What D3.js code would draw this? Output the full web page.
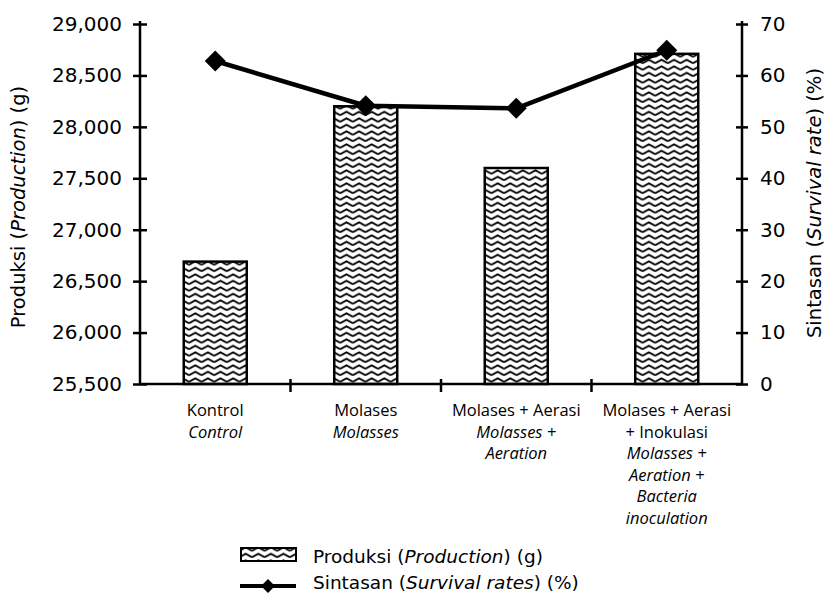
<!DOCTYPE html>
<html><head><meta charset="utf-8">
<script src="https://cdn.jsdelivr.net/npm/d3@7"></script>
<style>body{margin:0;background:#fff}svg{display:block}</style>
</head><body><svg id="c" width="827" height="597"></svg>
<script>
const categories = [
  [{t:"Kontrol",i:false},{t:"Control",i:true}],
  [{t:"Molases",i:false},{t:"Molasses",i:true}],
  [{t:"Molases + Aerasi",i:false},{t:"Molasses +",i:true},{t:"Aeration",i:true}],
  [{t:"Molases + Aerasi",i:false},{t:"+ Inokulasi",i:false},{t:"Molasses +",i:true},{t:"Aeration +",i:true},{t:"Bacteria",i:true},{t:"inoculation",i:true}]
];
const production = [26690, 28200, 27600, 28710];
const survival = [62.8, 54.1, 53.6, 64.9];
const leftTicks = [25500, 26000, 26500, 27000, 27500, 28000, 28500, 29000];
const rightTicks = [0, 10, 20, 30, 40, 50, 60, 70];

const svg = d3.select("#c");
const L = 140, R = 742, T = 24, B = 384;
const font = "'Open Sans', sans-serif";
const dfont = "'DejaVu Sans', sans-serif";

const defs = svg.append("defs");
const pat = defs.append("pattern").attr("id","zig").attr("patternUnits","userSpaceOnUse")
  .attr("width",12.6).attr("height",6.5);
pat.append("rect").attr("width",12.6).attr("height",6.5).attr("fill","#fff");
pat.append("path").attr("d","M0,4.8 L6.3,1.3 L12.6,4.8").attr("fill","none").attr("stroke","#000").attr("stroke-width",1.9);

const x = d3.scaleBand().domain(d3.range(categories.length)).range([L,R]).paddingInner(0).paddingOuter(0);
const yL = d3.scaleLinear().domain([25500,29000]).range([B,T]);
const yR = d3.scaleLinear().domain([0,70]).range([B,T]);
const barW = 63;

// bars
svg.selectAll("rect.bar").data(production).enter().append("rect").attr("class","bar")
  .attr("x",(d,i)=>x(i)+x.bandwidth()/2-barW/2).attr("width",barW)
  .attr("y",d=>yL(d)).attr("height",d=>B-yL(d))
  .attr("fill","url(#zig)").attr("stroke","#000").attr("stroke-width",2.5);

// left axis
const gL = svg.append("g").attr("transform",`translate(${L},0)`)
  .call(d3.axisLeft(yL).tickValues(leftTicks).tickFormat(d3.format(",")).tickSize(7).tickPadding(11));
gL.select(".domain").attr("stroke-width",2.5).attr("d",`M0,${T-3}V${B}`);
gL.selectAll(".tick line").attr("stroke-width",2.5).attr("x1",7).attr("x2",-7);
gL.selectAll(".tick text").attr("font-family",dfont).attr("font-size",20).attr("fill","#000");

// right axis
const gR = svg.append("g").attr("transform",`translate(${R},0)`)
  .call(d3.axisRight(yR).tickValues(rightTicks).tickSize(6).tickPadding(12));
gR.select(".domain").attr("stroke-width",2.5).attr("d",`M0,${T-3}V${B}`);
gR.selectAll(".tick line").attr("stroke-width",2.5).attr("x1",-6).attr("x2",6);
gR.selectAll(".tick text").attr("font-family",dfont).attr("font-size",20).attr("fill","#000");

// x baseline and category ticks
svg.append("line").attr("x1",L).attr("x2",R).attr("y1",B).attr("y2",B).attr("stroke","#000").attr("stroke-width",2.5);
svg.selectAll("line.ct").data(d3.range(1,categories.length)).enter().append("line").attr("class","ct")
  .attr("x1",i=>x(i)).attr("x2",i=>x(i)).attr("y1",B-5).attr("y2",B+8).attr("stroke","#000").attr("stroke-width",2.5);

// category labels
categories.forEach((lines,i)=>{
  const cx = x(i)+x.bandwidth()/2;
  const t = svg.append("text").attr("text-anchor","middle").attr("font-family",font).attr("font-size",16.5);
  lines.forEach((ln,j)=>{
    t.append("tspan").attr("x",cx).attr("y",416+j*21.5).attr("font-style",ln.i?"italic":"normal").text(ln.t);
  });
});

// survival line
const line = d3.line().x((d,i)=>x(i)+x.bandwidth()/2).y(d=>yR(d));
svg.append("path").datum(survival).attr("d",line).attr("fill","none").attr("stroke","#000").attr("stroke-width",4.5).attr("stroke-linejoin","round");
const dm = 10.5;
svg.selectAll("path.mk").data(survival).enter().append("path").attr("class","mk")
  .attr("d",(d,i)=>{const cx=x(i)+x.bandwidth()/2, cy=yR(d); return `M${cx},${cy-dm}L${cx+dm},${cy}L${cx},${cy+dm}L${cx-dm},${cy}Z`;})
  .attr("fill","#000");

// axis titles
const tl = svg.append("text").attr("transform","translate(18,207) rotate(-90)").attr("text-anchor","middle").attr("dominant-baseline","central")
  .attr("font-family",dfont).attr("font-size",19.5);
tl.append("tspan").text("Produksi (");
tl.append("tspan").attr("font-style","italic").text("Production");
tl.append("tspan").text(") (g)");
const tr = svg.append("text").attr("transform","translate(814,203) rotate(-90)").attr("text-anchor","middle").attr("dominant-baseline","central")
  .attr("font-family",dfont).attr("font-size",19.5);
tr.append("tspan").text("Sintasan (");
tr.append("tspan").attr("font-style","italic").text("Survival rate");
tr.append("tspan").text(") (%)");

// legend
svg.append("rect").attr("x",241).attr("y",548).attr("width",55).attr("height",13).attr("fill","url(#zig)").attr("stroke","#000").attr("stroke-width",2);
const lg1 = svg.append("text").attr("x",313).attr("y",563).attr("font-family",dfont).attr("font-size",18.5);
lg1.append("tspan").text("Produksi (");
lg1.append("tspan").attr("font-style","italic").text("Production");
lg1.append("tspan").text(") (g)");
svg.append("line").attr("x1",240).attr("x2",296).attr("y1",586).attr("y2",586).attr("stroke","#000").attr("stroke-width",4);
svg.append("path").attr("d","M268,579L275,586L268,593L261,586Z").attr("fill","#000");
const lg2 = svg.append("text").attr("x",313).attr("y",589).attr("font-family",dfont).attr("font-size",18.5);
lg2.append("tspan").text("Sintasan (");
lg2.append("tspan").attr("font-style","italic").text("Survival rates");
lg2.append("tspan").text(") (%)");
</script></body></html>
